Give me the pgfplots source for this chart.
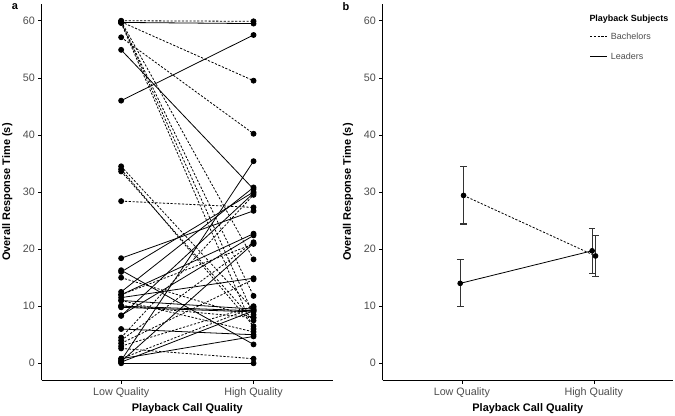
\documentclass[border=0pt]{standalone}
\usepackage{fontspec}
\setmainfont{Liberation Sans}
\usepackage{pgfplots}
\pgfplotsset{compat=1.18}

\definecolor{tickgray}{HTML}{4D4D4D}

\pgfplotsset{
  panel/.style={
    scale only axis, height=376.8bp,
    xmin=0.4, xmax=2.6, ymin=-3, ymax=63,
    axis x line*=bottom, axis y line*=left,
    axis line style={-, black, line width=0.6bp},
    xtick={1,2}, xticklabels={Low Quality, High Quality},
    ytick={0,10,...,60},
    tick align=outside, major tick length=3.3bp,
    tick style={black, line width=0.6bp},
    ticklabel style={font=\fontsize{10.8}{12}\selectfont, text=tickgray},
    /pgf/number format/assume math mode=true,
    xlabel={Playback Call Quality}, ylabel={Overall Response Time (s)},
    label style={font=\bfseries\fontsize{11}{13}\selectfont},
    xlabel style={at={(axis description cs:0.5,-0.074)}, anchor=center},
    clip=false,
  },
  lead/.style={black, line width=0.8bp, solid, mark=*, mark size=2.5bp, mark options={solid, fill=black}},
  bach/.style={black, line width=0.8bp, dash pattern=on 2.2bp off 1.6bp, mark=*, mark size=2.5bp, mark options={solid, fill=black}},
  ebars/.style={error bars/.cd, y dir=both, y explicit, error mark=-,
    error bar style={solid, black!80, line width=1.1bp},
    error mark options={solid, black!80, line width=1.1bp, mark size=3.3bp, rotate=90}},
}

\begin{document}
\begin{tikzpicture}
\useasboundingbox (0,0) rectangle (675bp,416bp);

% panel a: individual subjects
\begin{axis}[panel, at={(41.7bp,35.6bp)}, anchor=south west, width=291.3bp,
  ylabel style={at={(axis description cs:-0.118,0.5)}, anchor=center}]
% bachelors
\addplot[bach] coordinates {(1,60.0) (2,59.9)};
\addplot[bach] coordinates {(1,59.8) (2,49.5)};
\addplot[bach] coordinates {(1,57.1) (2,40.2)};
\addplot[bach] coordinates {(1,59.9) (2,18.2)};
\addplot[bach] coordinates {(1,59.7) (2,11.8)};
\addplot[bach] coordinates {(1,59.8) (2,8.5)};
\addplot[bach] coordinates {(1,59.6) (2,6.0)};
\addplot[bach] coordinates {(1,34.5) (2,9.4)};
\addplot[bach] coordinates {(1,34.0) (2,6.5)};
\addplot[bach] coordinates {(1,33.6) (2,7.5)};
\addplot[bach] coordinates {(1,28.4) (2,27.3)};
\addplot[bach] coordinates {(1,15.0) (2,8.0)};
\addplot[bach] coordinates {(1,11.0) (2,5.5)};
\addplot[bach] coordinates {(1,12.0) (2,20.9)};
\addplot[bach] coordinates {(1,10.1) (2,8.0)};
\addplot[bach] coordinates {(1,4.5) (2,29.5)};
\addplot[bach] coordinates {(1,4.0) (2,21.2)};
\addplot[bach] coordinates {(1,3.5) (2,14.7)};
\addplot[bach] coordinates {(1,3.0) (2,10.0)};
\addplot[bach] coordinates {(1,2.6) (2,0.8)};
\addplot[bach] coordinates {(1,0.8) (2,9.8)};
% leaders
\addplot[lead] coordinates {(1,59.7) (2,59.5)};
\addplot[lead] coordinates {(1,46.0) (2,57.5)};
\addplot[lead] coordinates {(1,54.9) (2,30.5)};
\addplot[lead] coordinates {(1,18.4) (2,26.7)};
\addplot[lead] coordinates {(1,16.3) (2,3.3)};
\addplot[lead] coordinates {(1,16.0) (2,30.0)};
\addplot[lead] coordinates {(1,12.5) (2,30.8)};
\addplot[lead] coordinates {(1,12.0) (2,22.7)};
\addplot[lead] coordinates {(1,11.5) (2,14.9)};
\addplot[lead] coordinates {(1,11.0) (2,9.5)};
\addplot[lead] coordinates {(1,10.0) (2,9.2)};
\addplot[lead] coordinates {(1,9.8) (2,9.0)};
\addplot[lead] coordinates {(1,8.4) (2,22.4)};
\addplot[lead] coordinates {(1,8.3) (2,29.8)};
\addplot[lead] coordinates {(1,6.0) (2,5.0)};
\addplot[lead] coordinates {(1,0.8) (2,4.7)};
\addplot[lead] coordinates {(1,0.5) (2,35.4)};
\addplot[lead] coordinates {(1,0.3) (2,21.0)};
\addplot[lead] coordinates {(1,0.2) (2,9.2)};
\addplot[lead] coordinates {(1,0.0) (2,0.0)};
\end{axis}

% panel b: means with error bars
\begin{axis}[panel, at={(382.7bp,35.6bp)}, anchor=south west, width=290.3bp,
  ylabel style={at={(axis description cs:-0.1195,0.5)}, anchor=center}]
\addplot[bach, mark size=2.4bp, ebars]
  coordinates {(1.0127,29.4) += (0,5.1) -= (0,5.0) (2.0127,18.8) += (0,3.55) -= (0,3.55)};
\addplot[lead, mark size=2.4bp, ebars]
  coordinates {(0.9873,14.0) += (0,4.1) -= (0,4.0) (1.9873,19.7) += (0,3.9) -= (0,3.9)};
\end{axis}

% legend
\node[anchor=west, font=\bfseries\fontsize{9}{11}\selectfont, inner sep=0pt] at (589.3bp,396.7bp) {Playback Subjects};
\draw[black, line width=0.8bp, dash pattern=on 2.2bp off 1.6bp] (590bp,379.3bp) -- (606.7bp,379.3bp);
\node[anchor=west, font=\fontsize{9}{11}\selectfont, text=tickgray, inner sep=0pt] at (610.7bp,379.3bp) {Bachelors};
\draw[black, line width=0.8bp] (590bp,359.3bp) -- (606.7bp,359.3bp);
\node[anchor=west, font=\fontsize{9}{11}\selectfont, text=tickgray, inner sep=0pt] at (610.7bp,359.3bp) {Leaders};

% panel letters
\node[font=\bfseries\fontsize{11}{13}\selectfont] at (15bp,409bp) {a};
\node[font=\bfseries\fontsize{11}{13}\selectfont] at (346bp,409bp) {b};
\end{tikzpicture}
\end{document}
